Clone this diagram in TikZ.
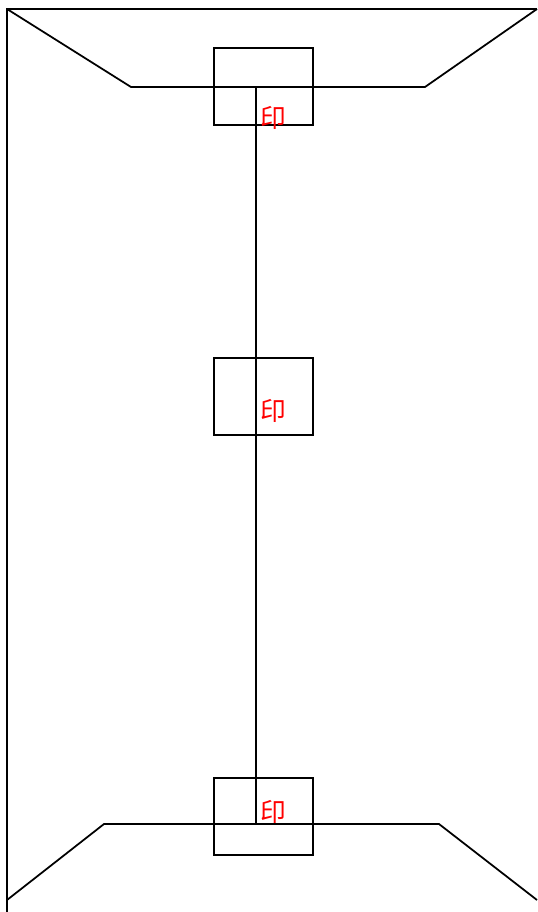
\documentclass[tikz,border=0pt]{standalone}
\usepackage{fontspec}
\newfontfamily\cjk{Noto Sans CJK SC}
\usetikzlibrary{positioning}

\begin{document}
\begin{tikzpicture}[
    x=0.03cm, y=-0.03cm,
    seal/.style={rectangle, draw, line width=1.5pt, minimum width=2.97cm,
                 minimum height=2.31cm, inner sep=0pt},
    stamp/.style={text=red, font=\cjk\fontsize{22}{22}\selectfont, inner sep=0pt},
    edge/.style={line width=1.5pt}
  ]
  \useasboundingbox (0,0) rectangle (538,912);

  % ---- Outline corners ----
  \coordinate (tl)  at (7,9);
  \coordinate (tr)  at (537,9);
  \coordinate (bl)  at (7,912);
  \coordinate (tlb) at (131,87);
  \coordinate (trb) at (425,87);
  \coordinate (blb) at (104,824);
  \coordinate (brb) at (439,824);
  \coordinate (blc) at (7,900);
  \coordinate (brc) at (537,900);
  \coordinate (top) at (256,87);
  \coordinate (bot) at (256,824);

  % ---- Seals ----
  \node[seal] (sealA) at (263.5,86.5)  {};
  \node[seal] (sealB) at (263.5,396.5) {};
  \node[seal] (sealC) at (263.5,816.5) {};

  % ---- Stamps ----
  \node[stamp] (markA) at (273,118) {印};
  \node[stamp] (markB) at (273,411) {印};
  \node[stamp] (markC) at (273,812) {印};

  % ---- Lines ----
  \draw[edge] (bl) -- (tl) -- (tr);
  \draw[edge] (tl) -- (tlb) -- (trb) -- (tr);
  \draw[edge] (blc) -- (blb) -- (brb) -- (brc);
  \draw[edge] (top) -- (bot);
\end{tikzpicture}
\end{document}
